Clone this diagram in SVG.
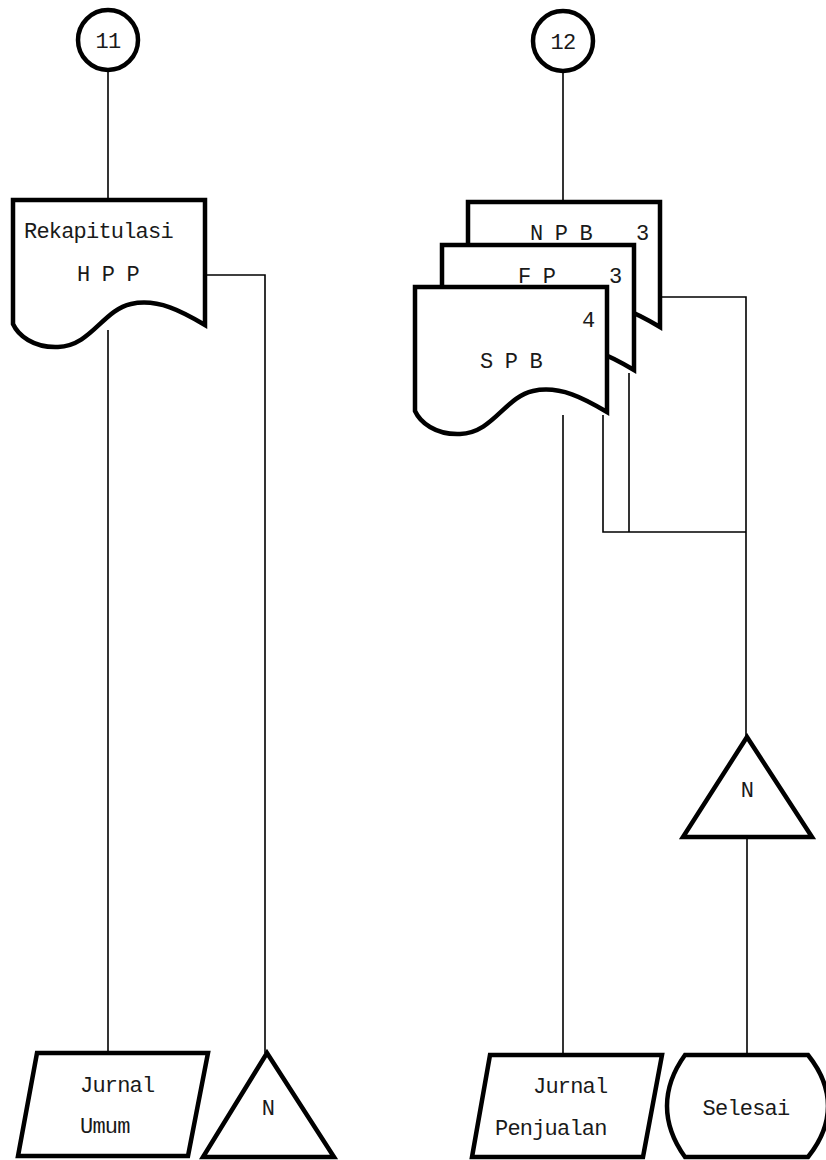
<svg xmlns="http://www.w3.org/2000/svg" xmlns:xlink="http://www.w3.org/1999/xlink" width="826" height="1160" viewBox="0 0 826 1160">
  <style>
    .shape { fill: #fff; stroke: #000; stroke-width: 4.5; stroke-linejoin: miter; }
    .conn { fill: none; stroke: #000; stroke-width: 1.6; }
    .lbl { font-family: "Liberation Mono", "DejaVu Sans Mono", monospace; font-size: 22px; letter-spacing: -0.8px; fill: #1a1a1a; }
    .mid { text-anchor: middle; }
  </style>
  <defs>
    <!-- document symbol with wavy bottom, 192 wide -->
    <path id="doc" d="M0,0 H192 V125 C170,112 145,98 118,104 C90,110 78,146 45,147 C20,148 5,135 0,124 Z"/>
  </defs>
  <rect width="826" height="1160" fill="#fff"/>

  <g id="connectors">
    <line class="conn" x1="108" y1="70" x2="108" y2="200"/>
    <polyline class="conn" points="205,275 265,275 265,1053"/>
    <line class="conn" x1="108" y1="330" x2="108" y2="1053"/>
    <line class="conn" x1="563" y1="72" x2="563" y2="202"/>
    <polyline class="conn" points="660,297 746,297 746,737"/>
    <line class="conn" x1="563" y1="415" x2="563" y2="1055"/>
    <polyline class="conn" points="603,415 603,532 746,532"/>
    <line class="conn" x1="629" y1="373" x2="629" y2="532"/>
    <line class="conn" x1="747" y1="837" x2="747" y2="1055"/>
  </g>

  <g id="conn-11">
    <circle class="shape" cx="108" cy="40" r="30"/>
    <text class="lbl mid" x="108" y="48">11</text>
  </g>

  <g id="conn-12">
    <circle class="shape" cx="563" cy="41" r="30"/>
    <text class="lbl mid" x="563" y="49">12</text>
  </g>

  <g id="doc-rekap">
    <use href="#doc" class="shape" transform="translate(13,200)"/>
    <text class="lbl" x="24" y="238">Rekapitulasi</text>
    <text class="lbl" x="77" y="281">H P P</text>
  </g>

  <g id="doc-npb">
    <use href="#doc" class="shape" transform="translate(468,202)"/>
    <text class="lbl" x="530" y="240">N P B</text>
    <text class="lbl" x="636" y="240">3</text>
  </g>

  <g id="doc-fp">
    <use href="#doc" class="shape" transform="translate(442,245)"/>
    <text class="lbl" x="518" y="283">F P</text>
    <text class="lbl" x="609" y="283">3</text>
  </g>

  <g id="doc-spb">
    <use href="#doc" class="shape" transform="translate(415,287)"/>
    <text class="lbl" x="582" y="327">4</text>
    <text class="lbl" x="480" y="368">S P B</text>
  </g>

  <g id="off-page-n-left">
    <polygon class="shape" points="267,1053 334,1157 203,1157"/>
    <text class="lbl mid" x="268" y="1115">N</text>
  </g>

  <g id="off-page-n-right">
    <polygon class="shape" points="747,737 812,837 683,837"/>
    <text class="lbl mid" x="747" y="797">N</text>
  </g>

  <g id="jurnal-umum">
    <polygon class="shape" points="37,1053 208,1053 188,1156 18,1156"/>
    <text class="lbl" x="80" y="1092">Jurnal</text>
    <text class="lbl" x="80" y="1133">Umum</text>
  </g>

  <g id="jurnal-penjualan">
    <polygon class="shape" points="490,1055 662,1055 643,1157 472,1157"/>
    <text class="lbl" x="533" y="1093">Jurnal</text>
    <text class="lbl" x="495" y="1135">Penjualan</text>
  </g>

  <g id="selesai">
    <path class="shape" d="M685,1055 H808 Q828,1080 828,1106 Q828,1132 808,1157 H685 Q667,1132 667,1106 Q667,1080 685,1055 Z"/>
    <text class="lbl mid" x="746" y="1115">Selesai</text>
  </g>
</svg>
